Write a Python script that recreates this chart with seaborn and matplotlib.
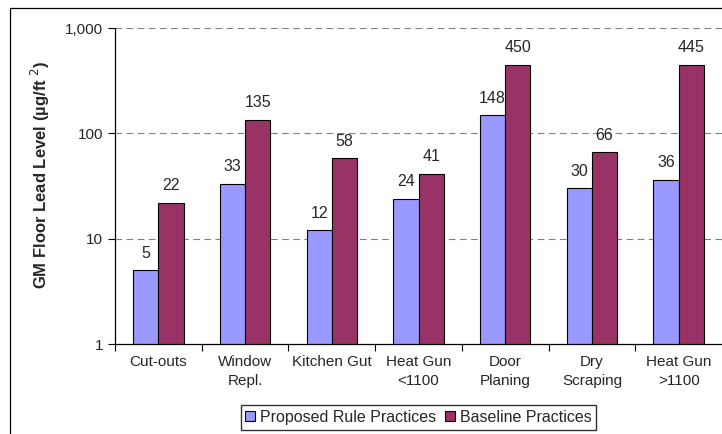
import matplotlib
matplotlib.use("Agg")
import matplotlib.pyplot as plt
import matplotlib.ticker as mticker
from matplotlib.lines import Line2D
import seaborn as sns
import pandas as pd

categories = ["Cut-outs", "Window\nRepl.", "Kitchen Gut", "Heat Gun\n<1100",
              "Door\nPlaning", "Dry\nScraping", "Heat Gun\n>1100"]
proposed = [5, 33, 12, 24, 148, 30, 36]
baseline = [22, 135, 58, 41, 450, 66, 445]
series_names = ["Proposed Rule Practices", "Baseline Practices"]
colors = ["#9999FF", "#993366"]

df = pd.DataFrame({
    "category": categories * 2,
    "value": proposed + baseline,
    "series": [series_names[0]] * len(categories) + [series_names[1]] * len(categories),
})

sns.set_style("white")
plt.rcParams["font.family"] = ["Liberation Sans", "DejaVu Sans"]

fig = plt.figure(figsize=(7.22, 4.34), dpi=100)
ax = fig.add_axes([115 / 722, 1 - 344 / 434, 1 - 115 / 722, (344 - 28) / 434])

sns.barplot(data=df, x="category", y="value", hue="series", palette=colors,
            saturation=1, width=0.58, gap=0, edgecolor="black", linewidth=0.8,
            legend=False, ax=ax)

ax.set_yscale("log")
ax.set_ylim(1, 1000)
ax.set_xlim(-0.5, len(categories) - 0.5)
ax.yaxis.set_major_locator(mticker.FixedLocator([1, 10, 100, 1000]))
ax.yaxis.set_minor_locator(mticker.NullLocator())
ax.yaxis.set_major_formatter(mticker.FuncFormatter(lambda v, p: f"{v:,.0f}"))

for yv in [10, 100, 1000]:
    ax.axhline(yv, color="#808080", lw=0.8, ls=(0, (6, 4)), zorder=0)

# category ticks sit between the groups
ax.set_xticks([i - 0.5 for i in range(len(categories))])
ax.set_xticklabels([])
ax.set_xticks(range(len(categories)), minor=True)
ax.set_xticklabels(categories, minor=True, fontsize=11, linespacing=1.45)
ax.tick_params(axis="x", which="major", direction="out", length=5, width=0.8,
               color="black", bottom=True)
ax.tick_params(axis="x", which="minor", length=0, pad=8)
ax.tick_params(axis="y", direction="out", length=5, width=0.8, color="black",
               left=True, labelsize=11)

ax.set_xlabel("")
ax.set_ylabel("GM Floor Lead Level (µg/ft $^{2}$)", fontsize=12, fontweight="bold")
ax.yaxis.set_label_coords(-0.104, 0.535)

for side in ["top", "right"]:
    ax.spines[side].set_visible(False)
for side in ["left", "bottom"]:
    ax.spines[side].set_color("black")
    ax.spines[side].set_linewidth(0.9)

for cont in ax.containers:
    ax.bar_label(cont, labels=[f"{v:.0f}" for v in cont.datavalues],
                 padding=7, fontsize=11.5)

handles = [plt.Rectangle((0, 0), 1, 1, facecolor=c, edgecolor="black", lw=0.8)
           for c in colors]
fig.legend(handles, series_names, loc="center", bbox_to_anchor=(418.5 / 722, 1 - 417.5 / 434),
           ncol=2, frameon=True, fancybox=False, edgecolor="black", fontsize=11.5,
           handlelength=0.6, handleheight=0.6, handletextpad=0.3, columnspacing=0.6,
           borderpad=0.3)

# outer chart frame
fig.add_artist(Line2D([10 / 722, 10 / 722], [0, 1 - 8 / 434], color="black", lw=0.9,
                      transform=fig.transFigure))
fig.add_artist(Line2D([10 / 722, 1], [1 - 8 / 434, 1 - 8 / 434], color="black", lw=0.9,
                      transform=fig.transFigure))

fig.savefig("out.png", dpi=100)
